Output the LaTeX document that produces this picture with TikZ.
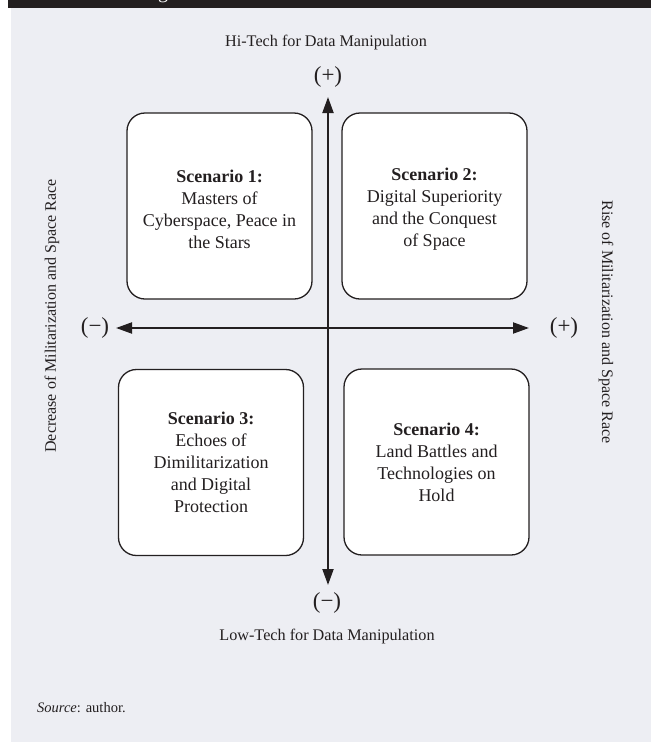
\documentclass[tikz,border=0pt]{standalone}
\usepackage{fontspec}
\setmainfont{Liberation Serif}
\usetikzlibrary{arrows.meta}
\definecolor{panel}{HTML}{EDEEF3}
\definecolor{ink}{HTML}{231F20}
\newcommand{\topgap}{\rule{0pt}{19pt}}
\begin{document}
\begin{tikzpicture}[x=1pt,y=-1pt,
  scenbox/.style={draw=ink, line width=1.3pt, rounded corners=18pt, fill=white,
    minimum width=185pt, minimum height=186pt, align=center, text=ink,
    font=\fontsize{18}{22}\selectfont, inner sep=0pt},
  axislbl/.style={text=ink, font=\fontsize{16.2}{18}\selectfont, inner sep=0pt},
  sidelbl/.style={text=ink, font=\fontsize{16}{18}\selectfont, inner sep=0pt},
  sign/.style={text=ink, font=\fontsize{23}{25}\selectfont, inner sep=0pt},
  axisline/.style={draw=ink, line width=2pt,
    {Triangle[length=16pt,width=11pt]}-{Triangle[length=16pt,width=11pt]}}]
\useasboundingbox (0,0) rectangle (651,742);
% panel and title strip
\fill[panel] (11,8) rectangle (651,742);
\fill[ink] (8,0) rectangle (651,8);
\begin{scope}
  \clip (8,0) rectangle (651,8);
  \node[white, font=\fontsize{20}{24}\selectfont, anchor=base, inner sep=0pt] (titlefrag) at (163,-2) {g};
\end{scope}

% axis ends
\coordinate (vtop) at (328,97);
\coordinate (vbot) at (328,585);
\coordinate (hleft) at (116,328);
\coordinate (hright) at (529,328);
\draw[axisline] (vbot) -- (vtop);
\draw[axisline] (hleft) -- (hright);

% axis labels
\node[axislbl] (hitech) at (326,43) {Hi-Tech for Data Manipulation};
\node[axislbl] (lowtech) at (327,637) {Low-Tech for Data Manipulation};
\node[sidelbl, rotate=90] (decrease) at (52,316) {Decrease of Militarization and Space Race};
\node[sidelbl, rotate=-90] (rise) at (606,322) {Rise of Militarization and Space Race};
\node[sign] (vplus) at (328,77) {(+)};
\node[sign] (vminus) at (327,603) {(−)};
\node[sign] (hminus) at (95,328) {(−)};
\node[sign] (hplus) at (564,328) {(+)};

% scenario boxes
\node[scenbox] (s1) at (219.5,206) {\topgap\textbf{Scenario 1:}\\Masters of\\Cyberspace, Peace in\\the Stars};
\node[scenbox] (s2) at (434.5,206) {\topgap\textbf{Scenario 2:}\\Digital Superiority\\and the Conquest\\of Space};
\node[scenbox] (s3) at (211,462.5) {\textbf{Scenario 3:}\\Echoes of\\Dimilitarization\\and Digital\\Protection};
\node[scenbox] (s4) at (436.5,462) {\textbf{Scenario 4:}\\Land Battles and\\Technologies on\\Hold};

% source line
\node[text=ink, font=\fontsize{14.5}{16}\selectfont, anchor=base west, inner sep=0pt] (source) at (37,712) {\textit{Source}: author.};
\end{tikzpicture}
\end{document}
